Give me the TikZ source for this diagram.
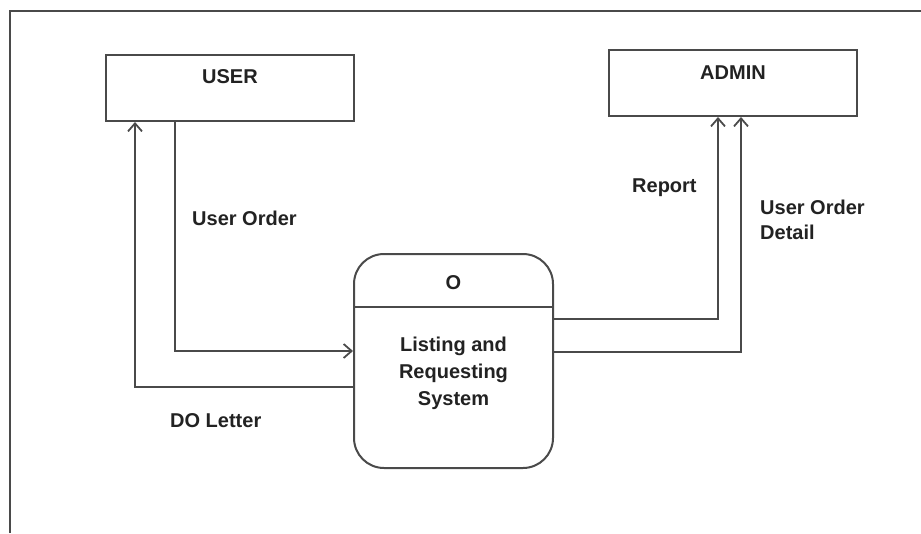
\documentclass[tikz,border=0pt]{standalone}
\usepackage{fontspec}
\setmainfont{Liberation Sans}
\usetikzlibrary{arrows.meta,calc}
\definecolor{linegray}{HTML}{4A4A4A}
\definecolor{textgray}{HTML}{222222}
\begin{document}
\begin{tikzpicture}[x=1pt,y=-1pt,
  every node/.style={font=\fontsize{20}{25}\selectfont\bfseries, text=textgray},
  entitybox/.style={draw=linegray, line width=2pt, minimum width=248pt, minimum height=66pt, inner sep=0pt},
  procbox/.style={draw=linegray, line width=2pt, rounded corners=30pt, minimum width=199pt, minimum height=214pt, inner sep=0pt},
  flow/.style={draw=linegray, line width=2pt, -{Straight Barb[length=8pt,width=14pt,line width=1.8pt]}},
  plainline/.style={draw=linegray, line width=2pt},
  flowlabel/.style={anchor=west, align=left, inner sep=0pt}]
\useasboundingbox (0,0) rectangle (921,533);
\fill[white] (0,0) rectangle (921,533);
% outer frame (left and top edges visible)
\coordinate (fbl) at (10,533);
\coordinate (ftl) at (10,11);
\coordinate (ftr) at (921,11);
\draw[plainline] (fbl) -- (ftl) -- (ftr);
% entities
\node[entitybox, anchor=north west] (user) at (105,54) {};
\node (userlbl) at ([yshift=-23pt]user.north) {USER};
\node[entitybox, anchor=north west] (admin) at (608,49) {};
\node (adminlbl) at ([yshift=-24pt]admin.north) {ADMIN};
% process
\node[procbox, anchor=north west] (proc) at (353,253) {};
\draw[plainline] ([yshift=-54pt]proc.north west) -- ([yshift=-54pt]proc.north east);
\node (procid) at ([yshift=-30pt]proc.north) {O};
\node[align=center, font=\fontsize{20}{27}\selectfont\bfseries] (proctext) at ([yshift=-120pt]proc.north) {Listing and\\Requesting\\System};
% flows
\draw[flow] ([xshift=70pt]user.south west) |- ([yshift=-98pt]proc.north west);
\draw[flow] ([yshift=-134pt]proc.north west) -| ([xshift=30pt]user.south west);
\draw[flow] ([yshift=-66pt]proc.north east) -| ([xshift=110pt]admin.south west);
\draw[flow] ([yshift=-99pt]proc.north east) -| ([xshift=133pt]admin.south west);
% labels
\node[flowlabel] (lbluo) at (192,218) {User Order};
\node[flowlabel] (lbldo) at (170,421) {DO Letter};
\node[flowlabel] (lblrep) at (632,188) {Report};
\node[flowlabel] (lbluod) at (760,220) {User Order\\Detail};
\end{tikzpicture}
\end{document}
